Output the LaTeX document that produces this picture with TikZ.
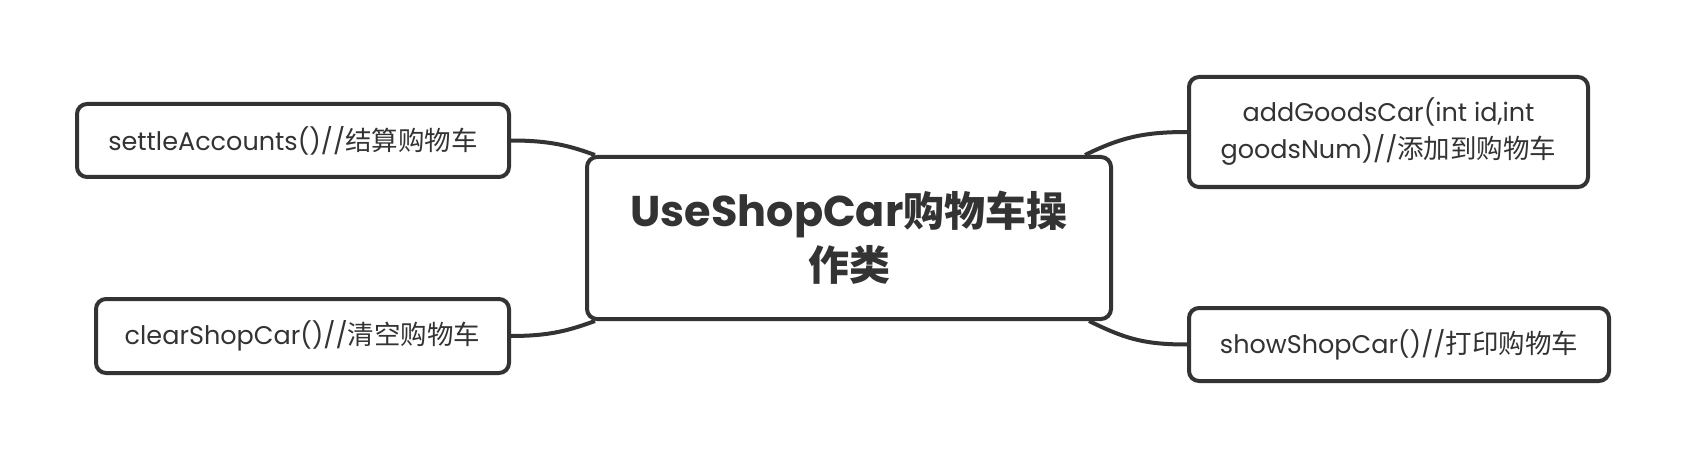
\documentclass[tikz,border=0pt]{standalone}
\usepackage{fontspec}
\setmainfont{Poppins}
\newfontfamily\cjk{Noto Sans CJK SC}
\usetikzlibrary{backgrounds}
\definecolor{ink}{HTML}{333333}
\newcommand{\zh}[1]{{\cjk\fontsize{26.5}{37}\selectfont #1}}
\newcommand{\zhb}[1]{{\cjk\bfseries\fontsize{41}{54}\selectfont #1}}
\begin{document}
\begin{tikzpicture}[x=1pt,y=1pt,
  box/.style={draw=ink,line width=4pt,rounded corners=10pt,fill=white,inner sep=0pt,text=ink,align=center,font=\fontsize{25.5}{37}\selectfont},
  link/.style={draw=ink,line width=4pt}]
\useasboundingbox (0,0) rectangle (1684,456);
\node[box,minimum width=524pt,minimum height=162pt,font=\fontsize{43}{54}\selectfont\bfseries] (m) at (849,218) {UseShopCar\zhb{购物车操}\\\zhb{作类}};
\node[box,minimum width=432pt,minimum height=73pt] (s) at (293,315.5) {settleAccounts()//\zh{结算购物车}};
\node[box,minimum width=413pt,minimum height=74pt] (c) at (302.5,120) {clearShopCar()//\zh{清空购物车}};
\node[box,minimum width=399pt,minimum height=110pt] (a) at (1388.5,324) {addGoodsCar(int id,int\\goodsNum)//\zh{添加到购物车}};
\node[box,minimum width=420pt,minimum height=73pt] (w) at (1399,111.5) {showShopCar()//\zh{打印购物车}};
\coordinate (m1) at ([xshift=10pt]m.north west);
\coordinate (m2) at ([xshift=10pt]m.south west);
\coordinate (m3) at ([xshift=-28pt]m.north east);
\coordinate (m4) at ([xshift=-24pt]m.south east);
\begin{pgfonlayer}{background}
\draw[link] (s.east) .. controls +(40,0) and +(-25,9) .. (m1);
\draw[link] (c.east) .. controls +(40,0) and +(-25,-9) .. (m2);
\draw[link] (a.west) .. controls +(-45,0) and +(35,17) .. (m3);
\draw[link] (w.west) .. controls +(-45,0) and +(35,-17) .. (m4);
\end{pgfonlayer}
\end{tikzpicture}
\end{document}
